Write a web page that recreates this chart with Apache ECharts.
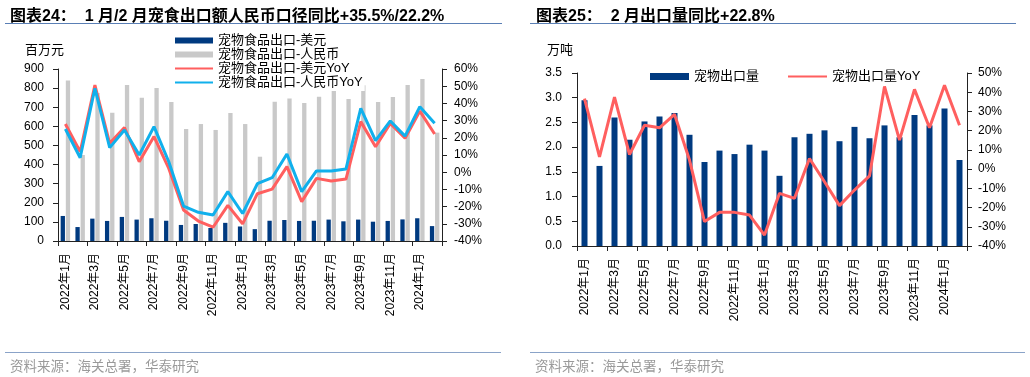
<!DOCTYPE html>
<html>
<head>
<meta charset="utf-8">
<script src="https://cdn.jsdelivr.net/npm/echarts@6/dist/echarts.min.js"></script>
<style>
  html, body { margin: 0; padding: 0; background: #fff; }
  #main { width: 1030px; height: 377px; }
</style>
</head>
<body>
<div id="main"></div>
<script>
// months shared by both charts
const months = [
  "2022年1月", "2022年2月", "2022年3月", "2022年4月", "2022年5月", "2022年6月",
  "2022年7月", "2022年8月", "2022年9月", "2022年10月", "2022年11月", "2022年12月",
  "2023年1月", "2023年2月", "2023年3月", "2023年4月", "2023年5月", "2023年6月",
  "2023年7月", "2023年8月", "2023年9月", "2023年10月", "2023年11月", "2023年12月",
  "2024年1月", "2024年2月"
];

// chart 24: export value (million)
const exportUsd = [131, 73, 117, 105, 126, 112, 119, 106, 84, 89, 68, 95, 76, 62, 106, 110, 105, 106, 112, 103, 112, 101, 105, 113, 119, 78];
const exportRmb = [840, 450, 775, 671, 816, 750, 800, 727, 586, 612, 581, 670, 612, 441, 729, 745, 722, 755, 815, 743, 815, 727, 753, 816, 848, 567];
const exportUsdYoY = [28.0, 11.9, 50.7, 16.8, 25.9, 6.1, 20.7, 2.2, -22.0, -28.4, -32.0, -19.3, -30.0, -12.5, -9.8, 3.2, -17.1, -3.6, -5.1, -4.0, 29.4, 14.8, 28.4, 19.7, 35.5, 22.2];
const exportRmbYoY = [25.1, 8.4, 48.8, 14.3, 24.5, 10.0, 26.5, 6.1, -19.7, -23.3, -24.9, -11.3, -24.0, -6.7, -3.2, 10.6, -11.3, 0.7, 0.7, 1.9, 37.1, 18.3, 29.8, 21.0, 38.1, 28.4];

// chart 25: export volume (10k tons)
const volume = [2.95, 1.62, 2.60, 2.15, 2.52, 2.62, 2.69, 2.25, 1.70, 1.93, 1.86, 2.05, 1.93, 1.42, 2.20, 2.27, 2.34, 2.12, 2.41, 2.18, 2.44, 2.20, 2.65, 2.44, 2.78, 1.74];
const volumeYoY = [36.7, 6.4, 37.5, 7.6, 22.8, 21.5, 28.5, 4.7, -27.3, -22.5, -22.5, -23.9, -34.3, -12.6, -15.2, 5.5, -6.6, -19.0, -10.9, -3.5, 43.0, 15.1, 41.5, 21.5, 43.6, 22.8];

const NAVY = "#003a80";
const GREY = "#c9c9c9";
const RED = "#ff5f5f";
const CYAN = "#10b0ec";
const FONT = "'Liberation Sans', 'Noto Sans CJK SC', sans-serif";

const chart = echarts.init(document.getElementById("main"), null, { renderer: "canvas" });

// shared axis styling
const axisLine = { show: true, lineStyle: { color: "#222", width: 1 } };
const axisTick = { show: true, inside: false, length: 5, lineStyle: { color: "#222" } };
const tickFont = { color: "#000", fontSize: 12, fontFamily: FONT };

function xAxisFor(gridIndex) {
  return {
    type: "category",
    gridIndex,
    data: months,
    boundaryGap: true,
    axisLine,
    axisTick: { ...axisTick, interval: 1 },
    axisLabel: { ...tickFont, interval: 1, rotate: 90, margin: 12 },
    splitLine: { show: false },
  };
}

// legend entries: plain rect for bars, bare line (symbol hidden) for lines
const barItem = (name) => ({ name, icon: "rect" });
const lineItem = (name) => ({ name, itemStyle: { opacity: 0 } });

chart.setOption({
  animation: false,
  textStyle: { fontFamily: FONT },
  title: [
    {
      text: "图表24：  1 月/2 月宠食出口额人民币口径同比+35.5%/22.2%",
      left: 5, top: 4,
      textStyle: { fontSize: 16, fontWeight: "bold", color: "#000", fontFamily: FONT },
    },
    {
      text: "图表25：  2 月出口量同比+22.8%",
      left: 531, top: 4,
      textStyle: { fontSize: 16, fontWeight: "bold", color: "#000", fontFamily: FONT },
    },
    {
      text: "资料来源：海关总署，华泰研究",
      left: 5, top: 356,
      textStyle: { fontSize: 13.5, fontWeight: "normal", color: "#9a9a9a", fontFamily: FONT },
    },
    {
      text: "资料来源：海关总署，华泰研究",
      left: 530, top: 356,
      textStyle: { fontSize: 13.5, fontWeight: "normal", color: "#9a9a9a", fontFamily: FONT },
    },
  ],
  graphic: [
    // title underlines and footer rules
    { type: "line", shape: { x1: 5, y1: 23.5, x2: 502, y2: 23.5 }, style: { stroke: "#5a7fb5", lineWidth: 1 } },
    { type: "line", shape: { x1: 530, y1: 23.5, x2: 1016, y2: 23.5 }, style: { stroke: "#5a7fb5", lineWidth: 1 } },
    { type: "line", shape: { x1: 5, y1: 352.5, x2: 501, y2: 352.5 }, style: { stroke: "#8aa3c8", lineWidth: 1 } },
    { type: "line", shape: { x1: 530, y1: 352.5, x2: 1025, y2: 352.5 }, style: { stroke: "#8aa3c8", lineWidth: 1 } },
    // unit labels
    { type: "text", left: 25, top: 44, style: { text: "百万元", fontSize: 13, fill: "#000", fontFamily: FONT } },
    { type: "text", left: 547, top: 44, style: { text: "万吨", fontSize: 13, fill: "#000", fontFamily: FONT } },
  ],
  legend: [
    {
      orient: "vertical",
      left: 174, top: 34,
      padding: [0, 2, 2, 0],
      backgroundColor: "#fff",
      itemWidth: 38, itemHeight: 6, itemGap: 1,
      textStyle: { fontSize: 13, color: "#000", lineHeight: 13, fontFamily: FONT },
      data: [
        barItem("宠物食品出口-美元"),
        barItem("宠物食品出口-人民币"),
        lineItem("宠物食品出口-美元YoY"),
        lineItem("宠物食品出口-人民币YoY"),
      ],
    },
    {
      orient: "horizontal",
      left: 645, top: 65,
      itemWidth: 39, itemHeight: 7, itemGap: 28,
      textStyle: { fontSize: 13, color: "#000", fontFamily: FONT },
      data: [barItem("宠物出口量"), lineItem("宠物出口量YoY")],
    },
  ],
  grid: [
    { left: 58, top: 69, width: 384, height: 172 },
    { left: 577, top: 73, width: 390, height: 173 },
  ],
  xAxis: [xAxisFor(0), xAxisFor(1)],
  yAxis: [
    {
      type: "value", gridIndex: 0, position: "left",
      min: 0, max: 900, interval: 100,
      axisLine, axisTick,
      axisLabel: { ...tickFont, margin: 14 },
      splitLine: { show: false },
    },
    {
      type: "value", gridIndex: 0, position: "right",
      min: -40, max: 60, interval: 10,
      axisLine, axisTick,
      axisLabel: { ...tickFont, margin: 12, formatter: "{value}%" },
      splitLine: { show: false },
    },
    {
      type: "value", gridIndex: 1, position: "left",
      min: 0, max: 3.5, interval: 0.5,
      axisLine, axisTick,
      axisLabel: { ...tickFont, margin: 15, formatter: (v) => v.toFixed(1) },
      splitLine: { show: false },
    },
    {
      type: "value", gridIndex: 1, position: "right",
      min: -40, max: 50, interval: 10,
      axisLine, axisTick,
      axisLabel: { ...tickFont, margin: 11, formatter: "{value}%" },
      splitLine: { show: false },
    },
  ],
  series: [
    {
      name: "宠物食品出口-美元", type: "bar",
      xAxisIndex: 0, yAxisIndex: 0,
      data: exportUsd, barWidth: 4.3, barGap: "20%",
      itemStyle: { color: NAVY },
    },
    {
      name: "宠物食品出口-人民币", type: "bar",
      xAxisIndex: 0, yAxisIndex: 0,
      data: exportRmb, barWidth: 4.3, barGap: "20%",
      itemStyle: { color: GREY },
    },
    {
      name: "宠物食品出口-美元YoY", type: "line",
      xAxisIndex: 0, yAxisIndex: 1,
      data: exportUsdYoY, symbol: "none", z: 3,
      lineStyle: { color: RED, width: 3 }, itemStyle: { color: RED },
    },
    {
      name: "宠物食品出口-人民币YoY", type: "line",
      xAxisIndex: 0, yAxisIndex: 1,
      data: exportRmbYoY, symbol: "none", z: 4,
      lineStyle: { color: CYAN, width: 3 }, itemStyle: { color: CYAN },
    },
    {
      name: "宠物出口量", type: "bar",
      xAxisIndex: 1, yAxisIndex: 2,
      data: volume, barWidth: 6,
      itemStyle: { color: NAVY },
    },
    {
      name: "宠物出口量YoY", type: "line",
      xAxisIndex: 1, yAxisIndex: 3,
      data: volumeYoY, symbol: "none", z: 3,
      lineStyle: { color: RED, width: 3 }, itemStyle: { color: RED },
    },
  ],
});
</script>
</body>
</html>
